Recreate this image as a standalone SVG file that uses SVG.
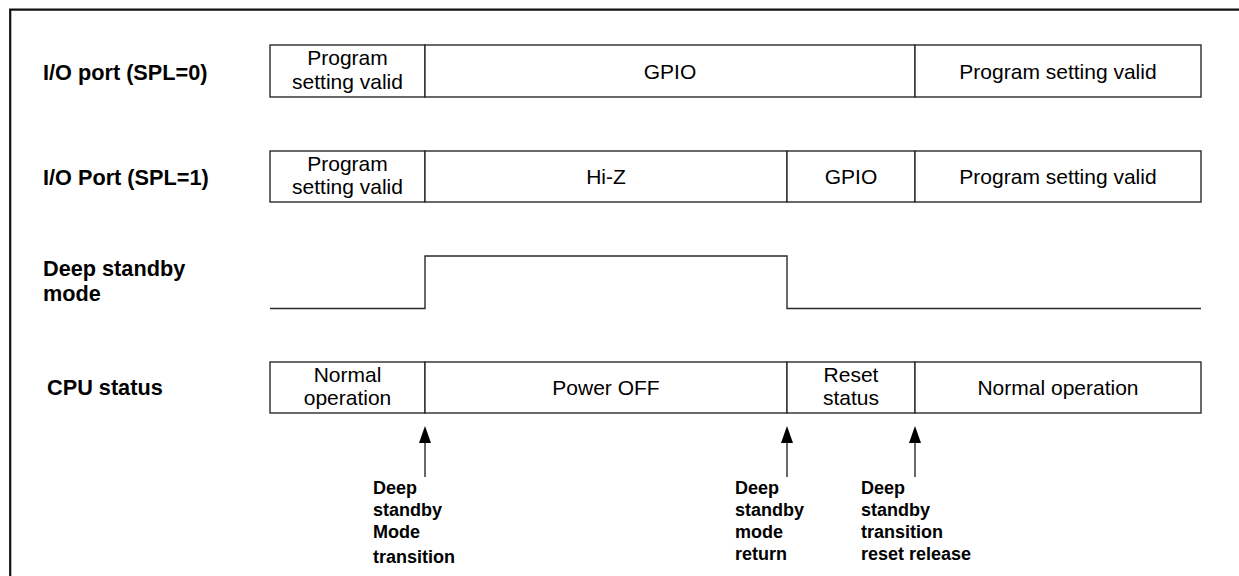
<svg xmlns="http://www.w3.org/2000/svg" width="1239" height="576" viewBox="0 0 1239 576">
  <defs>
    <style>
      .frame { fill: none; stroke: #111; stroke-width: 2.2; }
      .seg { fill: #fff; stroke: #2a2a2a; stroke-width: 1.4; }
      .wave { fill: none; stroke: #2a2a2a; stroke-width: 1.4; }
      .conn { fill: none; stroke: #2a2a2a; stroke-width: 1.4; }
      .row-label { font-family: "Liberation Sans", Arial, sans-serif; font-weight: bold; font-size: 21.7px; fill: #000; }
      .cell { font-family: "Liberation Sans", Arial, sans-serif; font-size: 21px; fill: #000; text-anchor: middle; }
      .event { font-family: "Liberation Sans", Arial, sans-serif; font-weight: bold; font-size: 18px; fill: #000; }
    </style>
    <!-- filled head pointing along the line direction; tip sits 6px past the line end -->
    <marker id="arrowHead" viewBox="0 0 17 12" refX="11" refY="6" markerWidth="17" markerHeight="12" markerUnits="userSpaceOnUse" orient="auto">
      <path d="M0,0 L17,6 L0,12 Z" fill="#000"/>
    </marker>
  </defs>

  <rect width="1239" height="576" fill="#fff"/>

  <!-- outer frame: top and left edges only -->
  <path class="frame" d="M10.2,580 L10.2,9.7 L1245,9.7"/>

  <!-- row labels -->
  <g id="label-io-spl0"><text class="row-label" x="43" y="80">I/O port (SPL=0)</text></g>
  <g id="label-io-spl1"><text class="row-label" x="43" y="185">I/O Port (SPL=1)</text></g>
  <g id="label-deep-standby">
    <text class="row-label" x="43" y="276">Deep standby</text>
    <text class="row-label" x="43" y="301">mode</text>
  </g>
  <g id="label-cpu"><text class="row-label" x="47" y="395">CPU status</text></g>

  <!-- I/O port (SPL=0) -->
  <g id="io0-program-start">
    <rect class="seg" x="270" y="45" width="155" height="52"/>
    <text class="cell" x="347.5" y="65">Program</text>
    <text class="cell" x="347.5" y="88.5">setting valid</text>
  </g>
  <g id="io0-gpio">
    <rect class="seg" x="425" y="45" width="490" height="52"/>
    <text class="cell" x="670" y="78.5">GPIO</text>
  </g>
  <g id="io0-program-end">
    <rect class="seg" x="915" y="45" width="286" height="52"/>
    <text class="cell" x="1058" y="78.5">Program setting valid</text>
  </g>

  <!-- I/O Port (SPL=1) -->
  <g id="io1-program-start">
    <rect class="seg" x="270" y="151" width="155" height="51"/>
    <text class="cell" x="347.5" y="171">Program</text>
    <text class="cell" x="347.5" y="194">setting valid</text>
  </g>
  <g id="io1-hiz">
    <rect class="seg" x="425" y="151" width="362" height="51"/>
    <text class="cell" x="606" y="184">Hi-Z</text>
  </g>
  <g id="io1-gpio">
    <rect class="seg" x="787" y="151" width="128" height="51"/>
    <text class="cell" x="851" y="184">GPIO</text>
  </g>
  <g id="io1-program-end">
    <rect class="seg" x="915" y="151" width="286" height="51"/>
    <text class="cell" x="1058" y="184">Program setting valid</text>
  </g>

  <!-- Deep standby mode waveform -->
  <g id="deep-standby-wave">
    <polyline class="wave" points="270,308.5 425,308.5 425,256 787,256 787,308.5 1201,308.5"/>
  </g>

  <!-- CPU status -->
  <g id="cpu-normal-start">
    <rect class="seg" x="270" y="362" width="155" height="51"/>
    <text class="cell" x="347.5" y="382">Normal</text>
    <text class="cell" x="347.5" y="405">operation</text>
  </g>
  <g id="cpu-power-off">
    <rect class="seg" x="425" y="362" width="362" height="51"/>
    <text class="cell" x="606" y="395">Power OFF</text>
  </g>
  <g id="cpu-reset">
    <rect class="seg" x="787" y="362" width="128" height="51"/>
    <text class="cell" x="851" y="382">Reset</text>
    <text class="cell" x="851" y="405">status</text>
  </g>
  <g id="cpu-normal-end">
    <rect class="seg" x="915" y="362" width="286" height="51"/>
    <text class="cell" x="1058" y="395">Normal operation</text>
  </g>

  <!-- event arrows -->
  <g id="connectors">
    <line class="conn" x1="425" y1="477" x2="425" y2="432" marker-end="url(#arrowHead)"/>
    <line class="conn" x1="787" y1="477" x2="787" y2="432" marker-end="url(#arrowHead)"/>
    <line class="conn" x1="915" y1="477" x2="915" y2="432" marker-end="url(#arrowHead)"/>
  </g>

  <!-- event labels -->
  <g id="event-enter">
    <text class="event" x="373" y="494">Deep</text>
    <text class="event" x="373" y="516">standby</text>
    <text class="event" x="373" y="538">Mode</text>
    <text class="event" x="373" y="563">transition</text>
  </g>
  <g id="event-return">
    <text class="event" x="735" y="494">Deep</text>
    <text class="event" x="735" y="516">standby</text>
    <text class="event" x="735" y="538">mode</text>
    <text class="event" x="735" y="560">return</text>
  </g>
  <g id="event-reset-release">
    <text class="event" x="861" y="494">Deep</text>
    <text class="event" x="861" y="516">standby</text>
    <text class="event" x="861" y="538">transition</text>
    <text class="event" x="861" y="560">reset release</text>
  </g>
</svg>
